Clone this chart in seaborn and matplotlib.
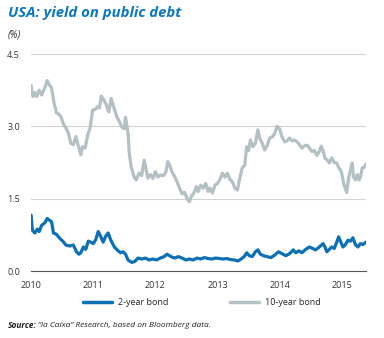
import matplotlib
matplotlib.use("Agg")
import matplotlib.pyplot as plt
import seaborn as sns
import pandas as pd
from matplotlib.lines import Line2D

# ---------------- data ----------------
t10 = [2010.00, 2010.03, 2010.06, 2010.09, 2010.13, 2010.17, 2010.22, 2010.26, 2010.30, 2010.33,
       2010.37, 2010.41, 2010.45, 2010.48, 2010.52, 2010.56, 2010.60, 2010.64, 2010.68, 2010.72,
       2010.76, 2010.80, 2010.83, 2010.87, 2010.91, 2010.95, 2010.99, 2011.03, 2011.07, 2011.10,
       2011.13, 2011.17, 2011.21, 2011.25, 2011.29, 2011.33, 2011.38, 2011.42, 2011.46, 2011.50,
       2011.52, 2011.56, 2011.58, 2011.61, 2011.66, 2011.69, 2011.74, 2011.78, 2011.82, 2011.86,
       2011.88, 2011.92, 2011.96, 2012.00, 2012.04, 2012.08, 2012.13, 2012.17, 2012.20, 2012.23,
       2012.27, 2012.31, 2012.35, 2012.39, 2012.43, 2012.47, 2012.52, 2012.55, 2012.58, 2012.62,
       2012.66, 2012.69, 2012.73, 2012.77, 2012.81, 2012.85, 2012.88, 2012.92, 2012.96, 2013.00,
       2013.04, 2013.08, 2013.12, 2013.16, 2013.20, 2013.24, 2013.28, 2013.32, 2013.36, 2013.40,
       2013.44, 2013.47, 2013.50, 2013.53, 2013.57, 2013.61, 2013.65, 2013.68, 2013.72, 2013.76,
       2013.80, 2013.84, 2013.88, 2013.92, 2013.96, 2014.00, 2014.04, 2014.08, 2014.12, 2014.16,
       2014.20, 2014.24, 2014.28, 2014.32, 2014.36, 2014.40, 2014.44, 2014.48, 2014.52, 2014.56,
       2014.60, 2014.64, 2014.67, 2014.70, 2014.73, 2014.77, 2014.80, 2014.84, 2014.88, 2014.92,
       2014.95, 2014.98, 2015.00, 2015.03, 2015.06, 2015.08, 2015.11, 2015.14, 2015.17, 2015.19,
       2015.22, 2015.25, 2015.28, 2015.30, 2015.33, 2015.36, 2015.39]
y10 = [3.85, 3.62, 3.70, 3.62, 3.75, 3.65, 3.80, 3.95, 3.85, 3.80,
       3.48, 3.28, 3.25, 3.20, 3.05, 2.97, 2.86, 2.65, 2.62, 2.79,
       2.60, 2.41, 2.58, 2.55, 2.82, 2.97, 3.34, 3.35, 3.41, 3.38,
       3.63, 3.55, 3.45, 3.30, 3.58, 3.40, 3.20, 3.10, 2.99, 2.95,
       3.19, 2.86, 2.45, 2.16, 1.95, 1.89, 2.03, 1.98, 2.30, 2.05,
       1.93, 2.00, 1.92, 2.06, 1.95, 1.99, 1.98, 2.05, 2.27, 2.20,
       2.05, 1.96, 1.85, 1.72, 1.60, 1.63, 1.48, 1.44, 1.55, 1.62,
       1.75, 1.65, 1.78, 1.72, 1.82, 1.65, 1.72, 1.62, 1.78, 1.82,
       1.90, 2.03, 1.95, 2.03, 1.90, 1.85, 1.72, 1.68, 1.93, 2.14,
       2.20, 2.58, 2.50, 2.72, 2.58, 2.65, 2.93, 2.75, 2.65, 2.51,
       2.60, 2.76, 2.78, 2.85, 3.00, 2.95, 2.78, 2.68, 2.70, 2.76,
       2.70, 2.72, 2.68, 2.62, 2.55, 2.60, 2.61, 2.55, 2.48, 2.50,
       2.40, 2.48, 2.59, 2.50, 2.34, 2.30, 2.24, 2.35, 2.25, 2.24,
       2.15, 2.10, 2.03, 1.82, 1.70, 1.63, 1.92, 2.10, 2.24, 1.95,
       1.89, 2.00, 1.89, 1.95, 2.14, 2.15, 2.22]

t2 = [2010.00, 2010.02, 2010.06, 2010.10, 2010.13, 2010.17, 2010.22, 2010.26, 2010.30, 2010.33,
      2010.36, 2010.41, 2010.46, 2010.51, 2010.56, 2010.62, 2010.68, 2010.73, 2010.77, 2010.80,
      2010.84, 2010.88, 2010.92, 2010.96, 2011.00, 2011.04, 2011.08, 2011.12, 2011.16, 2011.20,
      2011.24, 2011.28, 2011.34, 2011.40, 2011.44, 2011.48, 2011.52, 2011.56, 2011.62, 2011.67,
      2011.72, 2011.78, 2011.84, 2011.90, 2011.96, 2012.02, 2012.08, 2012.14, 2012.19, 2012.25,
      2012.31, 2012.37, 2012.43, 2012.49, 2012.55, 2012.61, 2012.67, 2012.73, 2012.79, 2012.85,
      2012.91, 2012.97, 2013.03, 2013.09, 2013.15, 2013.21, 2013.27, 2013.33, 2013.38, 2013.43,
      2013.47, 2013.51, 2013.56, 2013.61, 2013.65, 2013.69, 2013.74, 2013.80, 2013.86, 2013.92,
      2013.98, 2014.04, 2014.10, 2014.16, 2014.22, 2014.26, 2014.31, 2014.36, 2014.42, 2014.48,
      2014.53, 2014.58, 2014.64, 2014.70, 2014.73, 2014.76, 2014.80, 2014.84, 2014.88, 2014.92,
      2014.95, 2014.98, 2015.02, 2015.06, 2015.10, 2015.14, 2015.18, 2015.22, 2015.26, 2015.30,
      2015.34, 2015.39]
y2 = [1.16, 0.85, 0.79, 0.87, 0.82, 0.95, 1.00, 1.09, 1.05, 1.02,
      0.79, 0.76, 0.68, 0.62, 0.54, 0.52, 0.54, 0.40, 0.35, 0.38,
      0.50, 0.45, 0.62, 0.60, 0.57, 0.65, 0.82, 0.72, 0.60, 0.72,
      0.79, 0.65, 0.50, 0.42, 0.38, 0.40, 0.35, 0.23, 0.18, 0.20,
      0.27, 0.25, 0.27, 0.23, 0.25, 0.23, 0.27, 0.30, 0.35, 0.30,
      0.27, 0.30, 0.27, 0.23, 0.25, 0.23, 0.27, 0.25, 0.28, 0.26,
      0.25, 0.27, 0.26, 0.25, 0.26, 0.24, 0.23, 0.21, 0.25, 0.30,
      0.38, 0.32, 0.30, 0.40, 0.44, 0.35, 0.32, 0.30, 0.28, 0.33,
      0.40, 0.36, 0.32, 0.36, 0.44, 0.38, 0.42, 0.38, 0.45, 0.50,
      0.47, 0.44, 0.50, 0.57, 0.50, 0.40, 0.45, 0.50, 0.47, 0.60,
      0.71, 0.62, 0.50, 0.55, 0.64, 0.62, 0.69, 0.55, 0.50, 0.57,
      0.55, 0.60]

series_names = ["2-year bond", "10-year bond"]
year_ticks = [2010, 2011, 2012, 2013, 2014, 2015]
y_ticks = [0.0, 1.5, 3.0, 4.5]

BLUE = "#0b70b6"
GREY = "#b3c0c4"

df = pd.concat([
    pd.DataFrame({"t": t2, "v": y2, "s": series_names[0]}),
    pd.DataFrame({"t": t10, "v": y10, "s": series_names[1]}),
])

sns.set_style("white")
plt.rcParams["font.family"] = ["Open Sans", "DejaVu Sans"]

fig = plt.figure(figsize=(3.84, 3.38), dpi=100)
ax = fig.add_axes([0.081, 0.198, 0.872, 0.642])

sns.lineplot(data=df, x="t", y="v", hue="s", palette={series_names[0]: BLUE, series_names[1]: GREY},
             hue_order=series_names[::-1], linewidth=2.3, ax=ax, legend=False, sort=False)

ax.set_xlim(2010, 2015.39)
ax.set_ylim(0, 4.5)
ax.set_yticks(y_ticks)
ax.set_yticklabels([f"{v:.1f}" for v in y_ticks])
ax.set_xticks(year_ticks)
ax.set_xticklabels([str(y) for y in year_ticks])
for v in y_ticks[1:]:
    ax.axhline(v, color="#d3d3d3", lw=0.8, zorder=0)
for s in ["top", "right", "left"]:
    ax.spines[s].set_visible(False)
ax.spines["bottom"].set_color("#555555")
ax.spines["bottom"].set_linewidth(0.8)
ax.tick_params(axis="x", direction="out", length=4, width=0.8, color="#555555",
               labelsize=6.5, labelcolor="#333333", pad=3)
ax.tick_params(axis="y", length=0, labelsize=6.5, labelcolor="#333333", pad=8)
ax.set_xlabel("")
ax.set_ylabel("")

fig.text(0.021, 0.962, "USA: yield on public debt", fontsize=10.7, fontweight="bold",
         fontstyle="italic", color="#0b78c0", va="center", ha="left")
fig.text(0.021, 0.897, "(%)", fontsize=7, fontstyle="italic", color="#333333", va="center", ha="left")

handles = [Line2D([0], [0], color=BLUE, lw=2.5), Line2D([0], [0], color=GREY, lw=2.5)]
fig.legend(handles, series_names, loc="center", bbox_to_anchor=(0.525, 0.104), ncol=2,
           frameon=False, fontsize=6.5, handlelength=3.3, columnspacing=6.8, handletextpad=0.6)

fig.text(0.021, 0.036, "Source:", fontsize=6, fontweight="bold", fontstyle="italic",
         color="#222222", va="center", ha="left")
fig.text(0.099, 0.036, "“la Caixa” Research, based on Bloomberg data.", fontsize=6,
         fontstyle="italic", color="#222222", va="center", ha="left")

fig.savefig("out.png", dpi=100)
